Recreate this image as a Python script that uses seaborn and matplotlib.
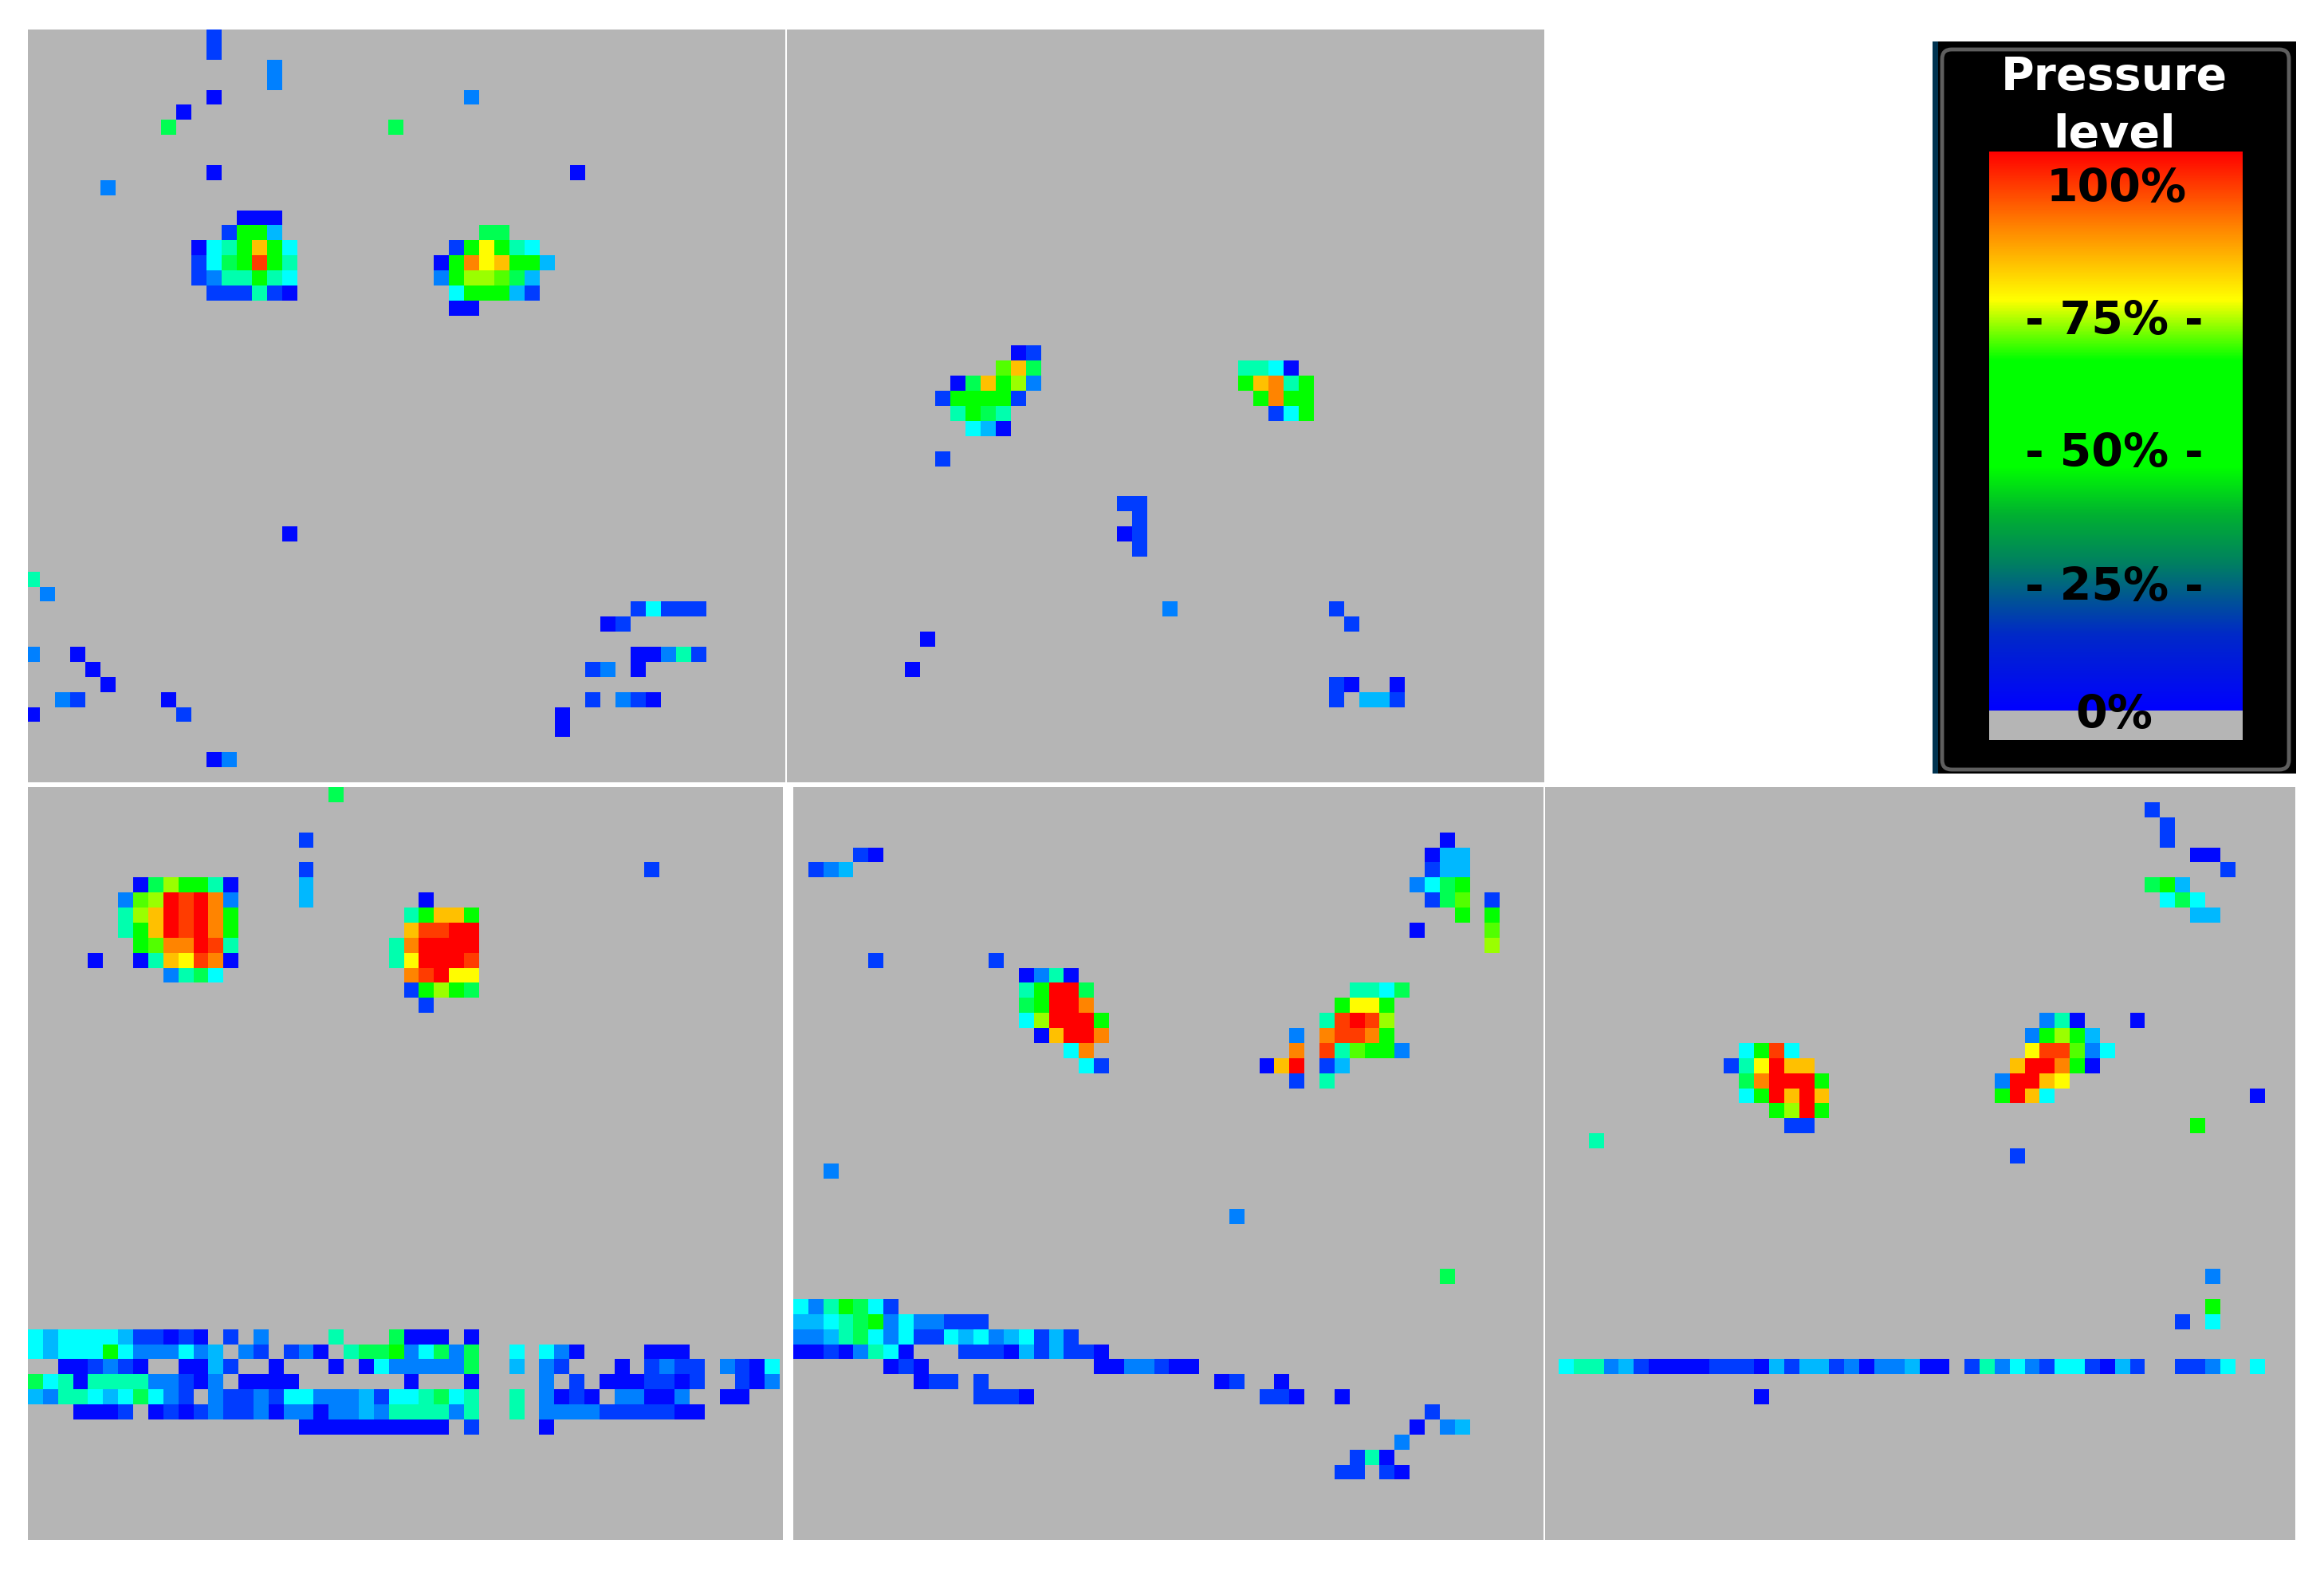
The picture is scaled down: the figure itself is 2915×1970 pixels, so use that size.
import numpy as np
import matplotlib
matplotlib.use("Agg")
import matplotlib.pyplot as plt
from matplotlib.colors import LinearSegmentedColormap, Normalize
from matplotlib.cm import ScalarMappable
from matplotlib.patches import FancyBboxPatch
import seaborn as sns

W, H = 2915, 1970
GRAY = "#b5b5b5"

# pressure level (%) for each letter code used in the sparse rows below
LEVEL_CODES = dict(a=1, b=6, c=12.5, d=18, e=25, f=33, g=42, h=50, i=58, j=65,
                   k=75, l=81, m=87, n=94, o=100)

# (row, first column, codes); "." is an empty cell
PANEL_A = [(0,12,"b"),(1,12,"b"),(2,16,"c"),(3,16,"c"),(4,12,"a"),(4,29,"c"),(5,10,"a"),
 (6,9,"g"),(6,24,"g"),(9,12,"a"),(9,36,"a"),(10,5,"c"),(12,14,"aaa"),(13,13,"bhhd"),(13,30,"gg"),
 (14,11,"aefhlhe"),(14,28,"bhkhfe"),(15,11,"beghnhf"),(15,27,"ahmklhhd"),(16,11,"bcffhfe"),
 (16,27,"chjjigd"),(17,12,"bbbfba"),(17,28,"ehhhdb"),(18,28,"aa"),(33,17,"a"),(36,0,"f"),(37,1,"c"),
 (38,40,"bebbb"),(39,38,"ab"),(41,0,"c"),(41,3,"a"),(41,40,"aacfb"),(42,4,"a"),(42,37,"bc"),
 (42,40,"a"),(43,5,"a"),(44,2,"cb"),(44,9,"a"),(44,37,"b"),(44,39,"cba"),(45,0,"a"),(45,10,"b"),
 (45,35,"a"),(46,35,"a"),(48,12,"ac")]

PANEL_B = [(21,15,"ab"),(22,14,"ilg"),(22,30,"ffea"),(23,11,"aglhjc"),(23,30,"hlmfh"),
 (24,10,"bhhhhb"),(24,31,"hmhh"),(25,11,"fhgf"),(25,32,"beh"),(26,12,"eda"),(28,10,"b"),
 (31,22,"bb"),(32,23,"b"),(33,22,"ab"),(34,23,"b"),(38,25,"c"),(38,36,"b"),(39,37,"b"),
 (40,9,"a"),(42,8,"a"),(43,36,"ba"),(43,40,"a"),(44,36,"b"),(44,38,"ddb")]

PANEL_C = [(0,20,"g"),(3,18,"b"),(5,18,"b"),(5,41,"b"),(6,7,"agjhhfa"),(6,18,"d"),
 (7,6,"cijonomc"),(7,18,"d"),(7,26,"a"),(8,6,"fjlonomh"),(8,25,"fhllh"),(9,6,"fhlonomh"),
 (9,25,"lnnoo"),(10,7,"himmonf"),(10,24,"fmoooo"),(11,4,"a"),(11,7,"aflknma"),(11,24,"fkooon"),
 (12,9,"cfge"),(12,25,"mnokk"),(13,25,"bhjhg"),(14,26,"b"),
 (36,0,"edeeeedbbaba.b.c"),(36,20,"f"),(36,24,"gaaa"),(36,29,"a"),
 (37,0,"edeeehecccecd.cb.bca.fgghcegcg"),(37,32,"e"),(37,34,"eca"),(37,41,"aaa"),
 (38,2,"aabcba..aadb..a...a.aecccccg"),(38,32,"d"),(38,34,"cb"),(38,39,"a"),(38,41,"bcbb"),(38,46,"cbae"),
 (39,0,"gefaffffccbac.aaaa"),(39,25,"a"),(39,29,"a"),(39,34,"c"),(39,36,"b"),(39,38,"aaabbab"),(39,47,"bac"),
 (40,0,"dcffedegecb.cbbcbeecccdbeefgef"),(40,32,"f"),(40,34,"caba"),(40,39,"ccaac"),(40,46,"aa"),
 (41,3,"aaab.ababcbbcaccaccdcffffcf"),(41,32,"f"),(41,34,"ccccbbbbbaa"),
 (42,18,"aaaaaaaaaa"),(42,29,"b"),(42,34,"a")]

PANEL_D = [(3,43,"a"),(4,4,"ba"),(4,42,"add"),(5,1,"bcd"),(5,42,"bdd"),(6,41,"cegh"),(7,42,"bgi"),
 (7,46,"b"),(8,44,"h"),(8,46,"h"),(9,41,"a"),(9,46,"i"),(10,46,"j"),(11,5,"b"),(11,13,"b"),
 (12,15,"acfa"),(13,15,"fhoog"),(13,37,"ffeg"),(14,15,"ghoom"),(14,36,"hkkh"),(15,15,"ejoooh"),
 (15,35,"fnonj"),(16,16,"aloom"),(16,33,"c"),(16,35,"mnnmh"),(17,18,"em"),(17,33,"m"),
 (17,35,"nfihhc"),(18,19,"eb"),(18,31,"alo"),(18,35,"bd"),(19,33,"b"),(19,35,"f"),(25,2,"c"),
 (28,29,"c"),(32,43,"g"),(34,0,"ecfhgeb"),(35,0,"ddefghceccbbb"),(36,0,"ccdfgecebbedecdebdb"),
 (37,0,"aabacfea"),(37,11,"bbbadbdbba"),(38,6,"aba"),(38,20,"aaccbaa"),(39,8,"abb"),(39,12,"b"),
 (39,28,"ab"),(39,32,"a"),(40,12,"bbba"),(40,31,"bba"),(40,36,"a"),(41,42,"b"),(42,41,"a"),
 (42,43,"cd"),(43,40,"c"),(44,37,"bfa"),(45,36,"bb"),(45,39,"ba")]

PANEL_E = [(1,40,"b"),(2,41,"b"),(3,41,"b"),(4,43,"aa"),(5,45,"b"),(6,40,"ghd"),(7,41,"ege"),
 (8,43,"dd"),(15,33,"cfa"),(15,39,"a"),(16,32,"chjhd"),(17,13,"ehne"),(17,32,"knnice"),
 (18,12,"bfkoll"),(18,31,"loomha"),(19,13,"gmoooh"),(19,30,"coolk"),(20,13,"eholol"),(20,30,"hole"),
 (20,47,"a"),(21,15,"hjoh"),(22,16,"bb"),(22,43,"h"),(23,3,"f"),(24,31,"b"),(32,44,"c"),(34,44,"h"),
 (35,42,"b"),(35,44,"e"),(38,1,"effcdbaaaabbbadbddbcaccdaa"),(38,28,"bfcecbeebadb"),(38,42,"bbce"),
 (38,47,"e"),(40,14,"a")]

# cell colour scale of the maps
CELL_STOPS = [(0.0, "#0000ff"), (0.25, "#00ffff"), (0.5, "#00ff00"), (0.75, "#ffff00"), (1.0, "#ff0000")]
# colour scale as printed in the legend bar
BAR_STOPS = [(0.0, "#0000ff"), (0.134, "#0028c8"), (0.264, "#008060"), (0.35, "#00b030"),
             (0.436, "#00ff00"), (0.627, "#00ff00"), (0.735, "#ffff00"), (0.869, "#ff8000"), (1.0, "#ff0000")]
BAR_LABELS = ["100%", "- 75% -", "- 50% -", "- 25% -", "0%"]
TITLE_LINES = ["Pressure", "level"]

cell_cmap = LinearSegmentedColormap.from_list("cells", CELL_STOPS)
bar_cmap = LinearSegmentedColormap.from_list("bar", BAR_STOPS, N=512)

fig = plt.figure(figsize=(W / 100, H / 100), dpi=100, facecolor="white")


def px_axes(x0, y0, x1, y1, **kw):
    return fig.add_axes([x0 / W, 1 - y1 / H, (x1 - x0) / W, (y1 - y0) / H], **kw)


def to_grid(rows):
    grid = np.full((50, 51), np.nan)
    for r, c, codes in rows:
        for k, ch in enumerate(codes):
            if ch != ".":
                grid[r, c + k] = LEVEL_CODES[ch]
    return grid


LAYOUT = [
    (PANEL_A, (35, 37, 985, 981), (0.21, 50.21)),
    (PANEL_B, (987, 37, 1937, 981), (0.21, 50.21)),
    (PANEL_C, (35, 987, 982, 1931), (0.0, 50.2)),
    (PANEL_D, (995, 987, 1936, 1931), (0.0, 49.9)),
    (PANEL_E, (1938, 987, 2879, 1931), (0.1, 50.0)),
]

for rows, box, xlim in LAYOUT:
    ax = px_axes(*box)
    sns.heatmap(to_grid(rows), ax=ax, cmap=cell_cmap, vmin=0, vmax=100, cbar=False,
                xticklabels=False, yticklabels=False, linewidths=0)
    ax.set_facecolor(GRAY)
    ax.set_xlim(*xlim)
    ax.set_ylim(50, 0)
    for s in ax.spines.values():
        s.set_visible(False)

# legend panel
bg = px_axes(2424, 52, 2880, 970)
bg.set_xlim(2424, 2880)
bg.set_ylim(970, 52)
bg.axis("off")
bg.axvspan(2424, 2880, color="black", lw=0)
bg.axvspan(2424, 2431, color="#003350", lw=0)
bg.add_patch(FancyBboxPatch((2436, 62), 435, 903, boxstyle="round,pad=0,rounding_size=12",
                            fc="none", ec="#5e5e5e", lw=3.5))
for line, y in zip(TITLE_LINES, [97, 170]):
    bg.text(2652, y, line, color="white", fontsize=41, fontweight="bold", family="DejaVu Sans",
            ha="center", va="center")

cax = px_axes(2495, 190, 2813, 891)
cb = fig.colorbar(ScalarMappable(norm=Normalize(0, 100), cmap=bar_cmap), cax=cax)
cb.outline.set_visible(False)
cb.set_ticks([])
gray_ax = px_axes(2495, 891, 2813, 928)
gray_ax.set_facecolor(GRAY)
gray_ax.set_xticks([])
gray_ax.set_yticks([])
for s in gray_ax.spines.values():
    s.set_visible(False)

for label, y, x in zip(BAR_LABELS, [238, 404, 570, 737, 898], [2655, 2652, 2652, 2652, 2652]):
    fig.text(x / W, 1 - y / H, label, color="black", fontsize=41, fontweight="bold",
             family="DejaVu Sans", ha="center", va="center", zorder=10)

fig.savefig("out.png", dpi=100)
